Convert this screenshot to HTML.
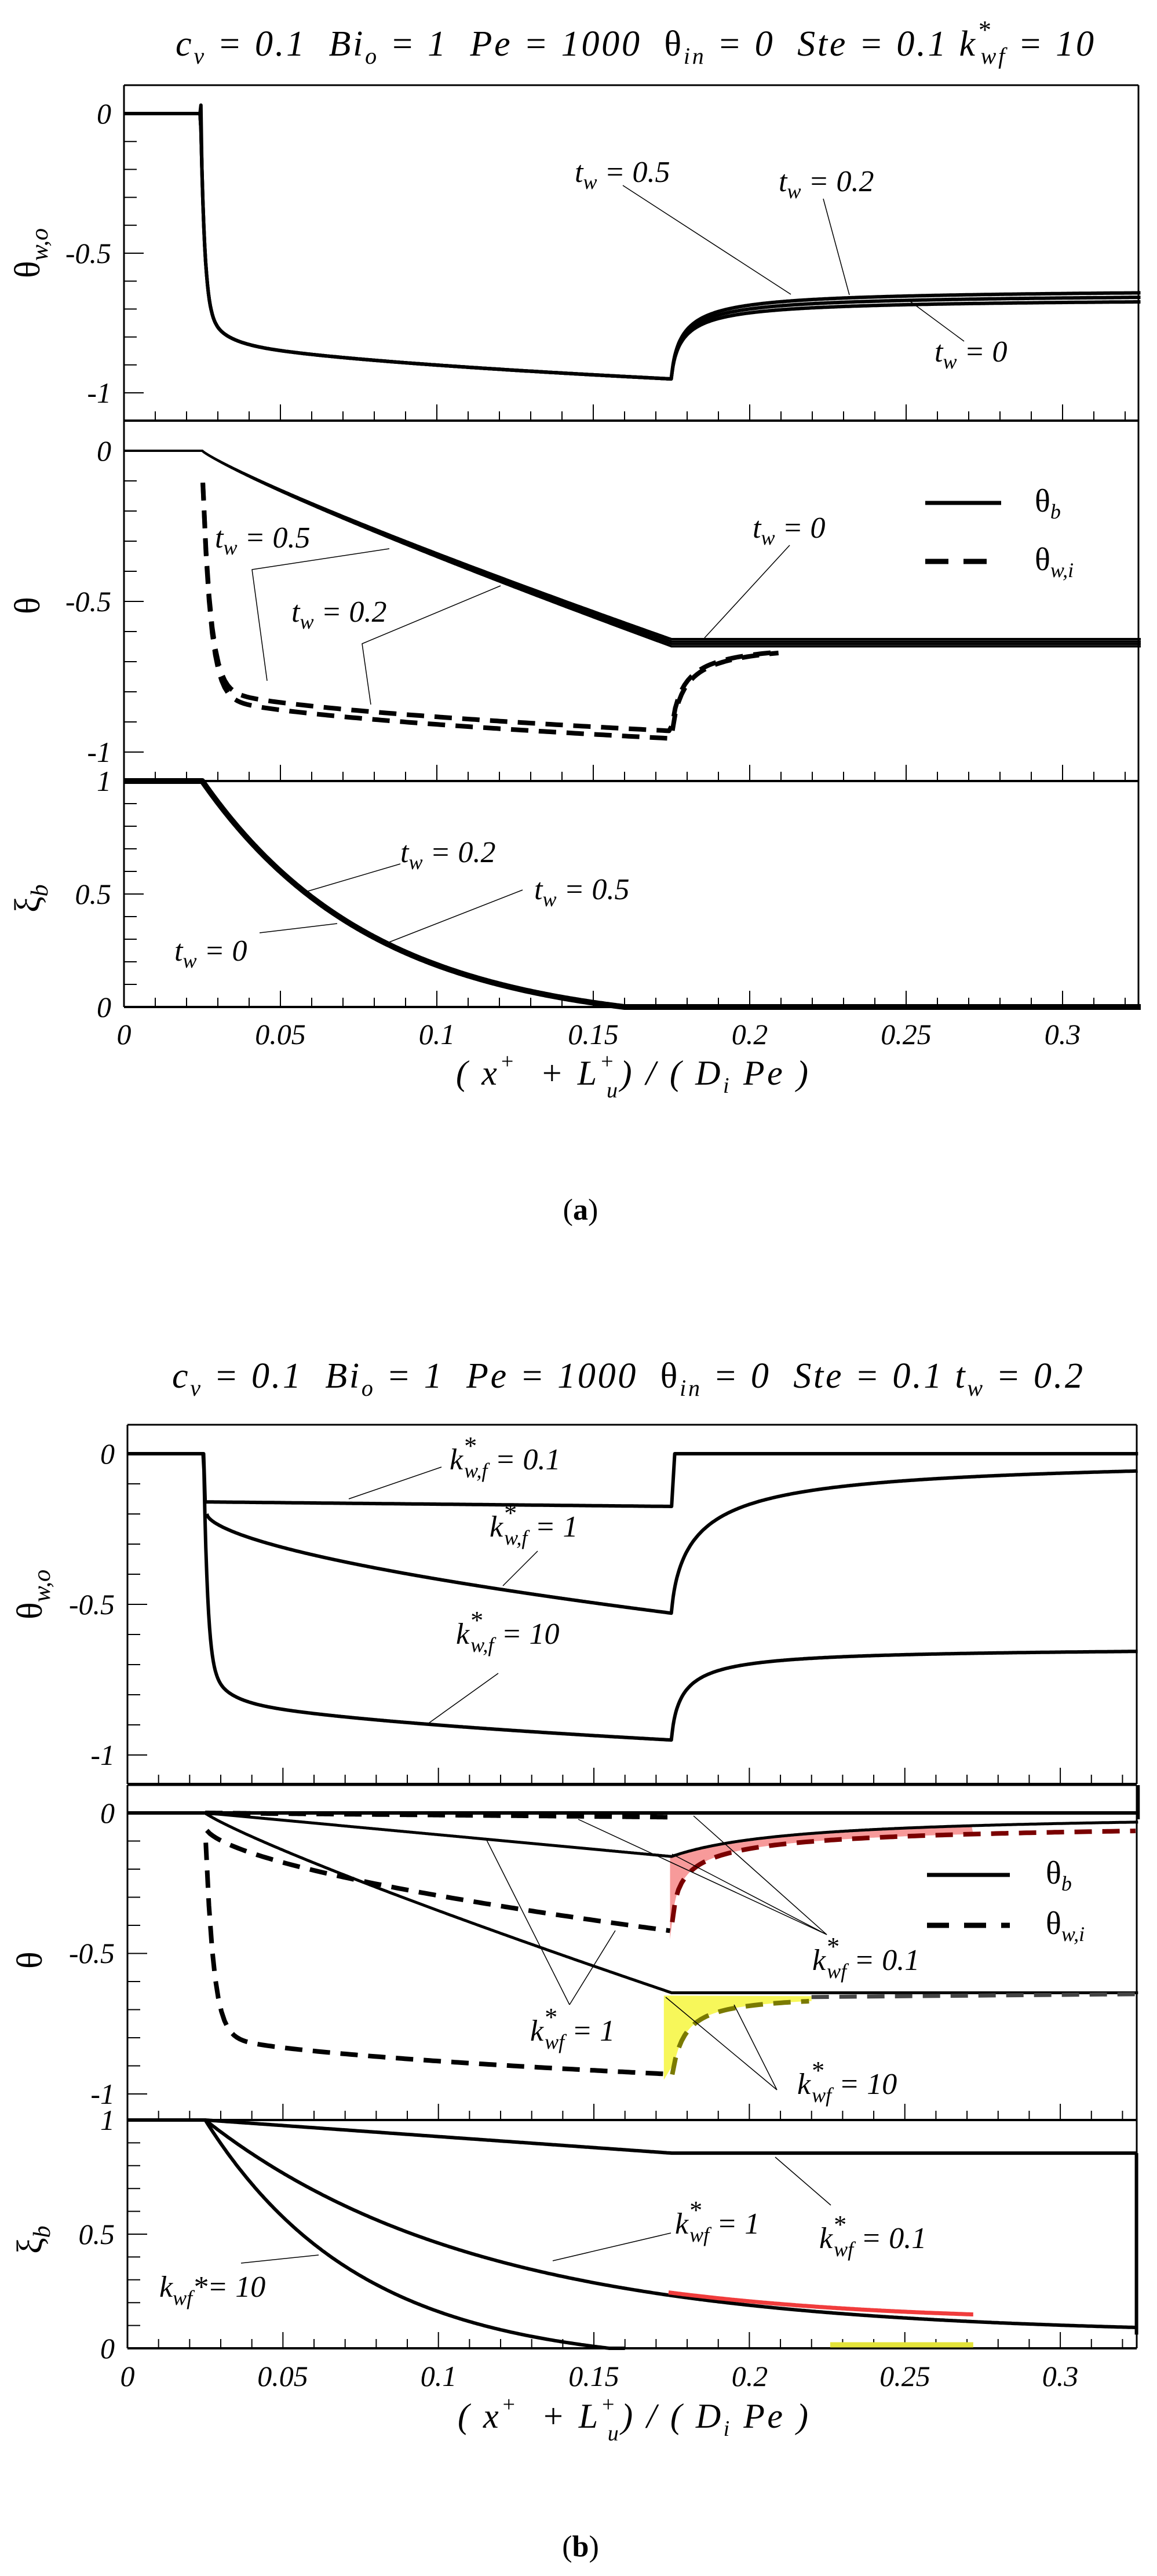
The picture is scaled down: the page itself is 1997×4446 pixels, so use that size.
<!DOCTYPE html>
<html><head><meta charset="utf-8"><style>
html,body{margin:0;padding:0;background:#fff}
svg{display:block}
text{font-family:"Liberation Serif",serif;font-style:italic;fill:#000}
</style></head><body>
<svg id="s" width="1997" height="4446" viewBox="0 0 1997 4446" xmlns="http://www.w3.org/2000/svg">
<rect width="1997" height="4446" fill="#fff"/>
<g id="g"></g>
<text x="303" y="96" font-size="62" textLength="1585" lengthAdjust="spacing" xml:space="preserve">c<tspan font-size="40" dy="14">v</tspan><tspan dy="-14"> = 0.1  Bi</tspan><tspan font-size="40" dy="14">o</tspan><tspan dy="-14"> = 1  Pe = 1000  </tspan><tspan style="font-style:normal">θ</tspan><tspan font-size="40" dy="14">in</tspan><tspan dy="-14"> = 0  Ste = 0.1 k</tspan><tspan font-size="44" dy="-30">*</tspan><tspan font-size="40" dx="-20" dy="44">wf</tspan><tspan dy="-14"> = 10</tspan></text>
<text x="297" y="2395" font-size="62" textLength="1572" lengthAdjust="spacing" xml:space="preserve">c<tspan font-size="40" dy="14">v</tspan><tspan dy="-14"> = 0.1  Bi</tspan><tspan font-size="40" dy="14">o</tspan><tspan dy="-14"> = 1  Pe = 1000  </tspan><tspan style="font-style:normal">θ</tspan><tspan font-size="40" dy="14">in</tspan><tspan dy="-14"> = 0  Ste = 0.1 t</tspan><tspan font-size="40" dy="14">w</tspan><tspan dy="-14"> = 0.2</tspan></text>

<g font-size="50" text-anchor="end">
<text x="192" y="213">0</text><text x="192" y="454">-0.5</text><text x="192" y="695">-1</text>
<text x="192" y="795">0</text><text x="192" y="1055">-0.5</text><text x="192" y="1315">-1</text>
<text x="192" y="1365">1</text><text x="192" y="1560">0.5</text><text x="192" y="1755">0</text>
<text x="198" y="2526">0</text><text x="198" y="2786">-0.5</text><text x="198" y="3046">-1</text>
<text x="198" y="3146">0</text><text x="198" y="3388">-0.5</text><text x="198" y="3631">-1</text>
<text x="198" y="3676">1</text><text x="198" y="3873">0.5</text><text x="198" y="4070">0</text>
</g>
<g font-size="50" text-anchor="middle">
<text x="214" y="1802">0</text><text x="484" y="1802">0.05</text><text x="754" y="1802">0.1</text><text x="1024" y="1802">0.15</text><text x="1294" y="1802">0.2</text><text x="1564" y="1802">0.25</text><text x="1834" y="1802">0.3</text>
<text x="220" y="4118">0</text><text x="488" y="4118">0.05</text><text x="757" y="4118">0.1</text><text x="1025" y="4118">0.15</text><text x="1294" y="4118">0.2</text><text x="1562" y="4118">0.25</text><text x="1830" y="4118">0.3</text>
</g>
<text x="787" y="1872" font-size="60" textLength="608" lengthAdjust="spacing" xml:space="preserve">( x<tspan font-size="38" dy="-28">+</tspan><tspan dy="28">  + L</tspan><tspan font-size="38" dy="-28">+</tspan><tspan font-size="38" dx="-18" dy="50">u</tspan><tspan dy="-22">) / ( D</tspan><tspan font-size="38" dy="14">i</tspan><tspan dy="-14"> Pe )</tspan></text>
<text x="790" y="4190" font-size="60" textLength="605" lengthAdjust="spacing" xml:space="preserve">( x<tspan font-size="38" dy="-28">+</tspan><tspan dy="28">  + L</tspan><tspan font-size="38" dy="-28">+</tspan><tspan font-size="38" dx="-18" dy="50">u</tspan><tspan dy="-22">) / ( D</tspan><tspan font-size="38" dy="14">i</tspan><tspan dy="-14"> Pe )</tspan></text>
<text x="1002" y="2105" font-size="52" text-anchor="middle" style="font-style:normal">(<tspan font-weight="bold">a</tspan>)</text>
<text x="1002" y="4412" font-size="52" text-anchor="middle" style="font-style:normal">(<tspan font-weight="bold">b</tspan>)</text>

<text transform="translate(68,480) rotate(-90)" font-size="62"><tspan style="font-style:normal">θ</tspan><tspan font-size="42" dy="14">w,o</tspan></text>
<text transform="translate(68,1060) rotate(-90)" font-size="62" style="font-style:normal">θ</text>
<text transform="translate(68,1575) rotate(-90)" font-size="62" style="font-style:normal">ξ<tspan font-size="42" dy="14" style="font-style:italic">b</tspan></text>
<text transform="translate(72,2795) rotate(-90)" font-size="62"><tspan style="font-style:normal">θ</tspan><tspan font-size="42" dy="14">w,o</tspan></text>
<text transform="translate(72,3398) rotate(-90)" font-size="62" style="font-style:normal">θ</text>
<text transform="translate(72,3890) rotate(-90)" font-size="62" style="font-style:normal">ξ<tspan font-size="42" dy="14" style="font-style:italic">b</tspan></text>

<g font-size="52">
<text x="992" y="314">t<tspan font-size="36" dy="12">w</tspan><tspan dy="-12"> = 0.5</tspan></text>
<text x="1344" y="330">t<tspan font-size="36" dy="12">w</tspan><tspan dy="-12"> = 0.2</tspan></text>
<text x="1613" y="624">t<tspan font-size="36" dy="12">w</tspan><tspan dy="-12"> = 0</tspan></text>
<text x="1299" y="928">t<tspan font-size="36" dy="12">w</tspan><tspan dy="-12"> = 0</tspan></text>
<text x="371" y="945">t<tspan font-size="36" dy="12">w</tspan><tspan dy="-12"> = 0.5</tspan></text>
<text x="503" y="1073">t<tspan font-size="36" dy="12">w</tspan><tspan dy="-12"> = 0.2</tspan></text>
<text x="691" y="1488">t<tspan font-size="36" dy="12">w</tspan><tspan dy="-12"> = 0.2</tspan></text>
<text x="922" y="1552">t<tspan font-size="36" dy="12">w</tspan><tspan dy="-12"> = 0.5</tspan></text>
<text x="301" y="1658">t<tspan font-size="36" dy="12">w</tspan><tspan dy="-12"> = 0</tspan></text>
<text x="1786" y="883" font-size="56" style="font-style:normal">θ<tspan font-size="36" dy="12" style="font-style:italic">b</tspan></text>
<text x="1786" y="984" font-size="56" style="font-style:normal">θ<tspan font-size="36" dy="12" style="font-style:italic">w,i</tspan></text>
</g>
<g font-size="52">
<text x="776" y="2536">k<tspan font-size="44" dy="-26">*</tspan><tspan font-size="36" dx="-20" dy="40">w,f</tspan><tspan dy="-14"> = 0.1</tspan></text>
<text x="845" y="2652">k<tspan font-size="44" dy="-26">*</tspan><tspan font-size="36" dx="-20" dy="40">w,f</tspan><tspan dy="-14"> = 1</tspan></text>
<text x="787" y="2837">k<tspan font-size="44" dy="-26">*</tspan><tspan font-size="36" dx="-20" dy="40">w,f</tspan><tspan dy="-14"> = 10</tspan></text>
<text x="1402" y="3400">k<tspan font-size="44" dy="-26">*</tspan><tspan font-size="36" dx="-20" dy="40">wf</tspan><tspan dy="-14"> = 0.1</tspan></text>
<text x="915" y="3522">k<tspan font-size="44" dy="-26">*</tspan><tspan font-size="36" dx="-20" dy="40">wf</tspan><tspan dy="-14"> = 1</tspan></text>
<text x="1376" y="3614">k<tspan font-size="44" dy="-26">*</tspan><tspan font-size="36" dx="-20" dy="40">wf</tspan><tspan dy="-14"> = 10</tspan></text>
<text x="1165" y="3855">k<tspan font-size="44" dy="-26">*</tspan><tspan font-size="36" dx="-20" dy="40">wf</tspan><tspan dy="-14"> = 1</tspan></text>
<text x="1414" y="3880">k<tspan font-size="44" dy="-26">*</tspan><tspan font-size="36" dx="-20" dy="40">wf</tspan><tspan dy="-14"> = 0.1</tspan></text>
<text x="275" y="3964">k<tspan font-size="36" dy="14">wf</tspan><tspan dy="-14">*= 10</tspan></text>
<text x="1805" y="3251" font-size="56" style="font-style:normal">θ<tspan font-size="36" dy="12" style="font-style:italic">b</tspan></text>
<text x="1805" y="3338" font-size="56" style="font-style:normal">θ<tspan font-size="36" dy="12" style="font-style:italic">w,i</tspan></text>
</g>
</svg>
<script>
(function(){
var g=document.getElementById('g'),h='';
function add(s){h+=s;}
function line(x1,y1,x2,y2,w,c){add('<line x1="'+x1+'" y1="'+y1+'" x2="'+x2+'" y2="'+y2+'" stroke="'+(c||'#000')+'" stroke-width="'+(w||2)+'"/>');}
function pl(pts,w,c,dash){var d='M'+pts.map(function(p){return p[0].toFixed(1)+','+p[1].toFixed(1)}).join('L');
 add('<path d="'+d+'" fill="none" stroke="'+(c||'#000')+'" stroke-width="'+w+'" stroke-linejoin="round"'+(dash?' stroke-dasharray="'+dash+'"':'')+'/>');}
function poly(pts,c){add('<path d="M'+pts.map(function(p){return p[0].toFixed(1)+','+p[1].toFixed(1)}).join('L')+'Z" fill="'+c+'" stroke="none"/>');}
function samp(ax,f,a,b,st){var r=[];st=st||0.0005;for(var x=a;x<=b+1e-9;x+=st){r.push([ax.X(x),ax.Y(f(x))]);}return r;}
function mk(x0,xs,y0,ys,top,bot,right){return {X:function(x){return x0+x*xs},Y:function(v){return y0-v*ys},top:top,bot:bot,x0:x0,right:right};}
function frame(ax,ymaj,ymin){
 line(ax.x0,ax.top,ax.x0,ax.bot,3);line(ax.right,ax.top,ax.right,ax.bot,3);
 line(ax.x0,ax.top,ax.right,ax.top,3);line(ax.x0,ax.bot,ax.right,ax.bot,4);
 for(var i=1;i<=32;i++){var x=ax.X(i*0.01);var L=(i%5==0)?28:16;line(x,ax.bot,x,ax.bot-L,2);}
 ymin.forEach(function(v){var y=ax.Y(v);line(ax.x0,y,ax.x0+22,y,2);});
 ymaj.forEach(function(v){var y=ax.Y(v);line(ax.x0,y,ax.x0+34,y,2);});
}
var th=[],i;for(i=-10;i<=0;i++)th.push(i/10);
var xi=[];for(i=0;i<=10;i++)xi.push(i/10);
var A1=mk(214,5400,196,482,147,726,1965),A2=mk(214,5400,778,520,726,1348,1965),A3=mk(214,5400,1738,390,1348,1738,1965);
frame(A1,[0,-0.5,-1],th);frame(A2,[0,-0.5,-1],th);frame(A3,[0,0.5,1],xi);
function topK10(off,base0){base0=base0||0.625;return function(x){if(x<0.0245)return 0;if(x<=0.175){var s=x-0.0245;
 var base=-(0.78+0.17*Math.sqrt(s/0.15));var q=1-Math.exp(-s/0.0012);
 return base*q + 0.1*Math.exp(-s/0.006)*q;}
 var t=x-0.175;var e=-base0-off;return e-(0.95+e)/(1+Math.pow(t/0.004,0.8));};}
[0,0.017,0.034].forEach(function(o){pl(samp(A1,topK10(o),0,0.325,0.0003),6);});
pl([[A1.X(0.0243),A1.Y(0)],[A1.X(0.0246),A1.Y(0.03)],[A1.X(0.0249),A1.Y(-0.2)]],6);
function thb(off){return function(x){if(x<0.025)return 0;if(x<=0.175){var s=x-0.025;return -(0.625+off)*Math.pow(s/0.15,0.88);}return -0.625-off;};}
[0,0.008,0.016,0.024].forEach(function(o){pl(samp(A2,thb(o),0,0.325),4);});
function thwi(off){return function(x){var s=x-0.025;if(x<=0.175)return -0.05-(0.72+off+0.16*Math.sqrt(s/0.15))*(1-Math.exp(-s/0.0025));
 var t=x-0.175;return -0.63-(0.30+off)/(1+Math.pow(t/0.004,0.9));};}
[0,0.025].forEach(function(o){pl(samp(A2,thwi(o),0.0252,0.21,0.001),8,'#000','30 18');});
function xiA(x){if(x<0.025)return 1;var s=x-0.025;var e=Math.exp(-0.135/0.055);var v=(Math.exp(-s/0.055)-e)/(1-e);return v<0?0:v;}
pl(samp(A3,xiA,0,0.325),10);
line(1075,320,1365,508,1.5);line(1421,343,1466,509,1.5);line(1664,589,1568,518,1.5);
line(1597,868,1728,868,7);pl([[1597,969],[1728,969]],9,'#000','40 26');
line(1363,941,1216,1101,1.5);
pl([[672,947],[435,983],[461,1175]],1.5);pl([[864,1011],[625,1111],[640,1216]],1.5);
line(691,1491,525,1540,1.5);line(902,1536,672,1626,1.5);line(448,1610,582,1594,1.5);
// Panel B
var B1=mk(220,5367,2509,520,2459,3079,1962),B2=mk(220,5367,3129,485,3081,3659,1962),B3=mk(220,5367,4053,394,3659,4053,1962);
frame(B1,[0,-0.5,-1],th);frame(B2,[0,-0.5,-1],th);frame(B3,[0,0.5,1],xi);
pl(samp(B1,function(x){if(x<0.025)return 0;if(x<0.175)return -0.16-0.015*(x-0.025)/0.15;if(x<0.176)return -0.175+0.175*(x-0.175)/0.001;return 0;},0,0.325,0.0005),6);
pl(samp(B1,function(x){if(x<=0.175){var s=x-0.0255;return -(0.2+0.33*Math.pow(Math.max(s,0)/0.15,0.6));}var t=x-0.175;return -0.53/(1+Math.pow(t/0.009,0.75));},0.0255,0.325,0.0003),6);
pl(samp(B1,topK10(0,0.64),0,0.325,0.0003),6);
line(220,3129,1962,3129,6);
function redTop(x){var t=x-0.175;return -0.155/(1+t/0.04);}
function dashK1(x){if(x<=0.175){var s=x-0.025;return -(0.05+0.37*Math.pow(s/0.15,0.6));}var t=x-0.175;return -0.02-0.43/(1+Math.pow(t/0.004,0.6));}
var rp=[];for(var x=0.1745;x<=0.272;x+=0.0005)rp.push([B2.X(x),B2.Y(redTop(x))]);
for(var x=0.272;x>=0.1752;x-=0.0005)rp.push([B2.X(x),B2.Y(dashK1(x))]);
rp.push([B2.X(0.1745),B2.Y(-0.45)]);poly(rp,'#f79a9a');
function dashK10(x){if(x<=0.175){var s=x-0.025;return -0.05-(0.72+0.16*Math.sqrt(s/0.15))*(1-Math.exp(-s/0.0025));}var t=x-0.175;return -0.645-0.30/(1+Math.pow(t/0.004,1.0));}
var yp=[[B2.X(0.1725),B2.Y(-0.65)],[B2.X(0.22),B2.Y(-0.652)]];
for(var x=0.22;x>=0.1755;x-=0.0005)yp.push([B2.X(x),B2.Y(dashK10(x))]);
yp.push([B2.X(0.1725),B2.Y(-0.95)]);poly(yp,'#f7f75a');
pl(samp(B2,function(x){if(x<0.025)return 0;if(x<=0.175)return -0.155*(x-0.025)/0.15;return redTop(x);},0,0.325),5);
pl(samp(B2,function(x){if(x<0.025)return 0;if(x<=0.175){var s=x-0.025;return -0.64*Math.pow(s/0.15,0.88);}return -0.64;},0,0.325),5);
pl(samp(B2,function(x){return -0.015*(x-0.025)/0.15;},0.025,0.175),8,'#000','30 18');
pl(samp(B2,function(x){return dashK1(x);},0.0255,0.175,0.001),8,'#000','30 18');
pl(samp(B2,dashK1,0.1752,0.325,0.001),8,'#7a0000','30 18');
pl(samp(B2,dashK10,0.0252,0.175,0.001),8,'#000','30 18');
pl(samp(B2,dashK10,0.1752,0.22,0.001),8,'#7a7a00','30 18');
pl([[B2.X(0.22),B2.Y(-0.655)],[B2.X(0.325),B2.Y(-0.645)]],7,'#444','30 18');
line(B2.X(0.325),3081,B2.X(0.325),3140,6);
line(1600,3236,1743,3236,7);pl([[1600,3323],[1743,3323]],9,'#000','38 26');
pl(samp(B3,function(x){if(x<0.025)return 1;if(x<=0.175)return 1-0.145*(x-0.025)/0.15;return 0.855;},0,0.3245),6);
line(B3.X(0.3245),B3.Y(0.855),B3.X(0.3245),B3.Y(0.06),6);
function xiK1(x){if(x<0.025)return 1;var s=x-0.025;return 0.06+0.94*Math.exp(-s/0.088);}
pl(samp(B3,xiK1,0,0.325),6);
function xiK10(x){if(x<0.025)return 1;var s=x-0.025;var e=Math.exp(-0.13/0.05);var v=(Math.exp(-s/0.05)-e)/(1-e);return v<0?0:v;}
pl(samp(B3,xiK10,0.025,0.16),6);
pl(samp(B3,function(x){return xiK1(x)+0.012+0.02*(x-0.174)/0.1;},0.174,0.272),7,'#f03c3c');
line(B3.X(0.226),4047,B3.X(0.272),4047,9,'#e4e43a');
line(762,2532,602,2587,1.5);line(928,2677,868,2737,1.5);line(860,2888,740,2974,1.5);
line(1427,3339,998,3140,1.5);line(1427,3339,1197,3134,1.5);line(1427,3339,1160,3200,1.5);
line(983,3460,838,3172,1.5);line(983,3460,1062,3332,1.5);
line(1341,3607,1149,3447,1.5);line(1341,3607,1267,3460,1.5);
line(1158,3854,954,3902,1.5);line(1434,3806,1338,3723,1.5);line(416,3906,550,3892,1.5);
g.innerHTML=h;
})();
</script>
</body></html>
